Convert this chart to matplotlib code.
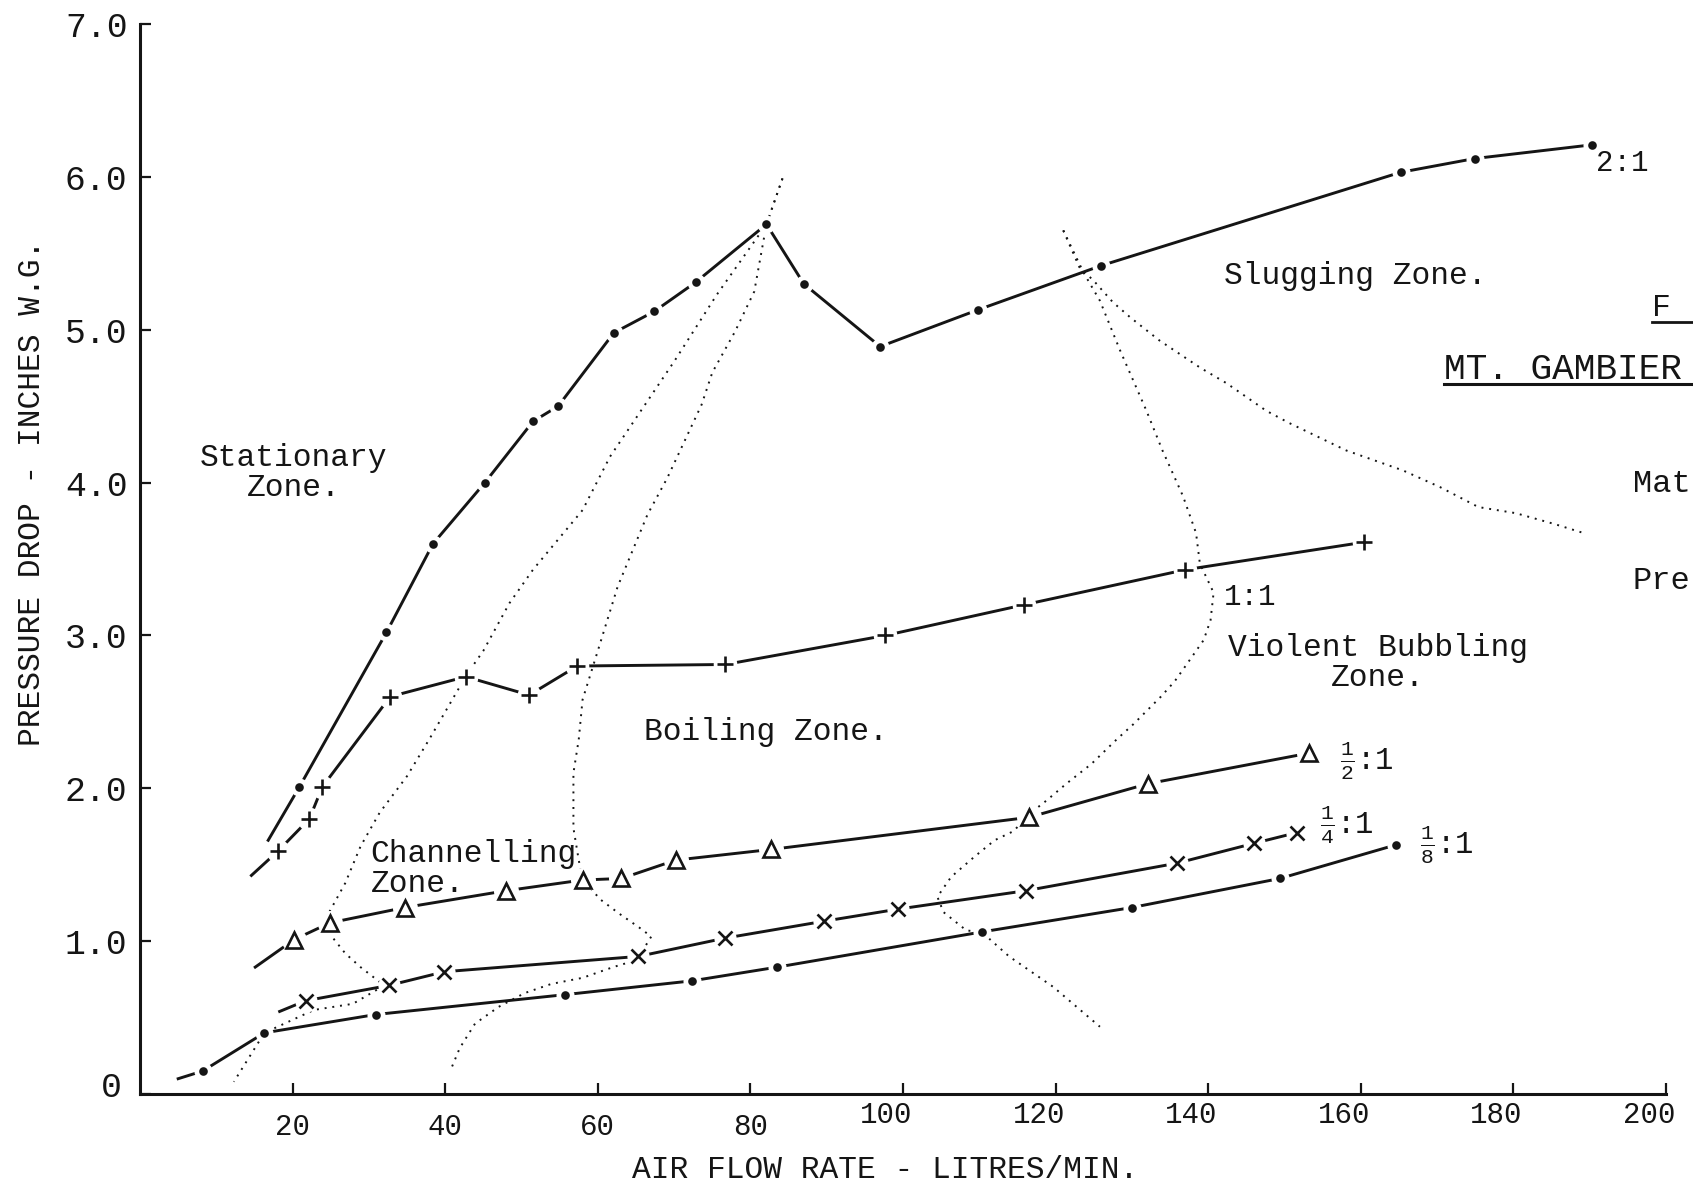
import matplotlib
matplotlib.use("Agg")
import matplotlib.pyplot as plt
from matplotlib.lines import Line2D
from matplotlib.transforms import ScaledTranslation

plt.rcParams["font.family"] = "Liberation Mono"
plt.rcParams["mathtext.fontset"] = "custom"
plt.rcParams["mathtext.rm"] = "Liberation Mono"
plt.rcParams["mathtext.it"] = "Liberation Mono"

INK = "#151515"

# Air flow (litres/min) and pressure drop (in. W.G.) for each ratio
x_2to1 = [20.9, 32.3, 38.4, 45.2, 51.5, 54.8, 62.1, 67.4, 72.8, 82.1, 87.0, 97.0, 109.8, 126.0, 165.2, 174.9, 190.3]
y_2to1 = [2.01, 3.02, 3.60, 4.00, 4.40, 4.50, 4.98, 5.12, 5.31, 5.69, 5.30, 4.89, 5.13, 5.42, 6.03, 6.12, 6.21]
start_2to1 = (16.8, 1.66)

x_1to1 = [18.1, 22.2, 23.9, 32.8, 42.7, 51.0, 57.3, 76.7, 97.7, 115.8, 137.0, 160.4]
y_1to1 = [1.59, 1.80, 2.01, 2.60, 2.73, 2.61, 2.80, 2.81, 3.00, 3.20, 3.43, 3.61]
start_1to1 = (14.6, 1.43)

x_half = [20.2, 24.9, 34.7, 48.0, 58.0, 63.1, 70.2, 82.7, 116.5, 132.1, 153.2]
y_half = [1.01, 1.12, 1.22, 1.33, 1.40, 1.41, 1.53, 1.60, 1.81, 2.03, 2.23]
start_half = (15.1, 0.83)

x_quarter = [21.7, 32.6, 39.9, 65.3, 76.7, 89.6, 99.4, 116.1, 135.9, 146.0, 151.6]
y_quarter = [0.61, 0.71, 0.80, 0.90, 1.02, 1.13, 1.21, 1.33, 1.51, 1.64, 1.71]
start_quarter = (18.3, 0.54)

x_eighth = [8.2, 16.3, 30.9, 55.7, 72.3, 83.5, 110.3, 130.0, 149.4, 164.6]
y_eighth = [0.15, 0.40, 0.52, 0.65, 0.74, 0.83, 1.06, 1.22, 1.41, 1.63]
start_eighth = (5.0, 0.10)

# Dotted zone boundaries
bound_a_x = [84.2, 82.1, 75.6, 70.1, 61.6, 58.0, 51.5, 48.4, 45.0, 42.9, 37.9, 35.0, 31.4, 28.9,
             26.9, 24.8, 24.5, 25.3, 26.9, 28.9, 32.0, 27.9, 22.8, 16.3, 12.3]
bound_a_y = [5.99, 5.69, 5.23, 4.80, 4.17, 3.82, 3.43, 3.21, 2.90, 2.75, 2.32, 2.08, 1.84, 1.62,
             1.38, 1.19, 1.08, 1.02, 0.92, 0.83, 0.71, 0.59, 0.55, 0.40, 0.08]
bound_b_x = [84.2, 82.1, 80.5, 78.0, 75.0, 73.6, 69.1, 66.5, 62.6, 60.0, 58.0, 57.5, 56.8, 56.8,
             57.5, 58.0, 60.4, 62.8, 65.4, 67.0, 65.4, 64.0, 62.0, 58.0, 53.9, 50.4, 47.0, 43.9,
             41.9, 40.9]
bound_b_y = [5.99, 5.69, 5.25, 4.99, 4.72, 4.51, 4.03, 3.79, 3.32, 2.90, 2.58, 2.32, 2.10, 1.74,
             1.53, 1.40, 1.27, 1.18, 1.09, 1.03, 0.90, 0.86, 0.83, 0.76, 0.72, 0.66, 0.57, 0.46,
             0.30, 0.18]
bound_c_x = [121.0, 123.7, 125.8, 128.4, 129.8, 131.9, 134.0, 135.0, 136.7, 138.4, 138.9, 140.7,
             140.3, 139.4, 137.3, 135.6, 133.8, 130.2, 128.0, 124.7, 121.4, 118.8, 116.5, 114.5,
             112.0, 109.3, 106.3, 104.5, 105.3, 108.3, 110.3, 113.9, 119.7, 125.8]
bound_c_y = [5.65, 5.37, 5.19, 4.87, 4.71, 4.47, 4.21, 4.10, 3.91, 3.67, 3.47, 3.28,
             3.10, 2.97, 2.82, 2.70, 2.60, 2.42, 2.32, 2.16, 2.03, 1.92, 1.83, 1.72,
             1.66, 1.55, 1.42, 1.29, 1.19, 1.07, 1.06, 0.90, 0.70, 0.44]
bound_e_x = [121.0, 123.1, 125.0, 127.5, 129.8, 133.6, 139.0, 142.4, 147.6, 150.6, 158.1, 165.5,
             170.4, 175.4, 180.3, 185.3, 189.2]
bound_e_y = [5.65, 5.41, 5.32, 5.18, 5.08, 4.93, 4.75, 4.65, 4.47, 4.39, 4.21, 4.08,
             3.97, 3.84, 3.80, 3.73, 3.67]

x_ticks = [20, 40, 60, 80, 100, 120, 140, 160, 180, 200]
y_ticks = [0, 1, 2, 3, 4, 5, 6, 7]
y_tick_labels = ["0", "1.0", "2.0", "3.0", "4.0", "5.0", "6.0", "7.0"]

fig = plt.figure(figsize=(16.93, 11.85), dpi=100)
ax = fig.add_axes([0.0827, 0.0768, 0.9014, 0.9029])
ax.set_xlim(0, 200)
ax.set_ylim(0, 7)

for s in ["top", "right"]:
    ax.spines[s].set_visible(False)
for s in ["left", "bottom"]:
    ax.spines[s].set_linewidth(2.2)
    ax.spines[s].set_color(INK)

ax.set_xticks(x_ticks)
ax.set_xticklabels([str(t) for t in x_ticks])
ax.set_yticks(y_ticks)
ax.set_yticklabels(y_tick_labels)
ax.tick_params(direction="in", length=8, width=1.6, color=INK, labelcolor=INK)
ax.tick_params(axis="x", pad=14, labelsize=21)
ax.tick_params(axis="y", pad=9, labelsize=25)

# typed 3-digit labels sit a little left and higher than their ticks
for lab in ax.get_xticklabels():
    if len(lab.get_text()) == 3:
        lab.set_transform(lab.get_transform() + ScaledTranslation(-0.17, 0.12, fig.dpi_scale_trans))
# the "0" is typed a bit above the axis line
ax.get_yticklabels()[0].set_transform(
    ax.get_yticklabels()[0].get_transform() + ScaledTranslation(-0.06, 0.10, fig.dpi_scale_trans))

# zone boundaries
for bx, by in [(bound_a_x, bound_a_y), (bound_b_x, bound_b_y),
               (bound_c_x, bound_c_y), (bound_e_x, bound_e_y)]:
    ax.plot(bx, by, color=INK, lw=1.4, ls=(0, (1, 3)), zorder=1)


def draw_series(xs, ys, start, marker, ms, mew, face, halo):
    ax.plot([start[0]] + xs, [start[1]] + ys, color=INK, lw=2.1, zorder=2)
    ax.plot(xs, ys, ls="none", marker="o", ms=halo, mfc="white", mec="none", zorder=3)
    ax.plot(xs, ys, ls="none", marker=marker, ms=ms, mew=mew, mfc=face, mec=INK, zorder=4)


draw_series(x_2to1, y_2to1, start_2to1, "o", 5, 1.2, INK, 13)
draw_series(x_1to1, y_1to1, start_1to1, "+", 12, 1.9, "none", 17)
draw_series(x_half, y_half, start_half, "^", 11, 1.9, "white", 18)
draw_series(x_quarter, y_quarter, start_quarter, "x", 10, 1.9, "none", 16)
draw_series(x_eighth, y_eighth, start_eighth, "o", 5, 1.2, INK, 13)

# series labels
ax.text(190.8, 6.09, "2:1", fontsize=21, color=INK, va="center")
ax.text(142.1, 3.25, "1:1", fontsize=21, color=INK, va="center")
ax.text(157.3, 2.18, r"$\frac{1}{2}$:1", fontsize=22, color=INK, va="center")
ax.text(154.6, 1.76, r"$\frac{1}{4}$:1", fontsize=22, color=INK, va="center")
ax.text(167.8, 1.63, r"$\frac{1}{8}$:1", fontsize=22, color=INK, va="center")

# zone labels
ax.text(20.1, 4.06, "Stationary\nZone.", fontsize=22.5, color=INK, ha="center", va="center", linespacing=1.0)
ax.text(66.1, 2.37, "Boiling Zone.", fontsize=22.5, color=INK, va="center")
ax.text(30.2, 1.47, "Channelling\nZone.", fontsize=22.5, color=INK, va="center", linespacing=1.0)
ax.text(142.0, 5.35, "Slugging Zone.", fontsize=22.5, color=INK, va="center")
ax.text(162.2, 2.82, "Violent Bubbling\nZone.", fontsize=22.5, color=INK, ha="center", va="center", linespacing=1.0)

# axis titles
fig.text(0.019, 0.584, "PRESSURE DROP - INCHES W.G.", rotation=90, fontsize=22.5, color=INK,
         ha="center", va="center")
fig.text(0.523, 0.013, "AIR FLOW RATE - LITRES/MIN.", fontsize=22.5, color=INK, ha="center", va="center")

# title block: only the part that shows before the sheet edge
fig.text(0.9758, 0.740, "F", fontsize=22.5, color=INK, va="center")
fig.add_artist(Line2D([0.9758, 1.0], [0.7285, 0.7285], transform=fig.transFigure, color=INK, lw=2.0))
fig.text(0.8527, 0.6886, "MT. GAMBIER", fontsize=26, color=INK, va="center")
fig.add_artist(Line2D([0.8527, 1.0], [0.676, 0.676], transform=fig.transFigure, color=INK, lw=2.2))
fig.text(0.9643, 0.5918, "Mat", fontsize=23, color=INK, va="center")
fig.text(0.9643, 0.5098, "Pre", fontsize=23, color=INK, va="center")

fig.savefig("out.png", dpi=100, facecolor="white")
